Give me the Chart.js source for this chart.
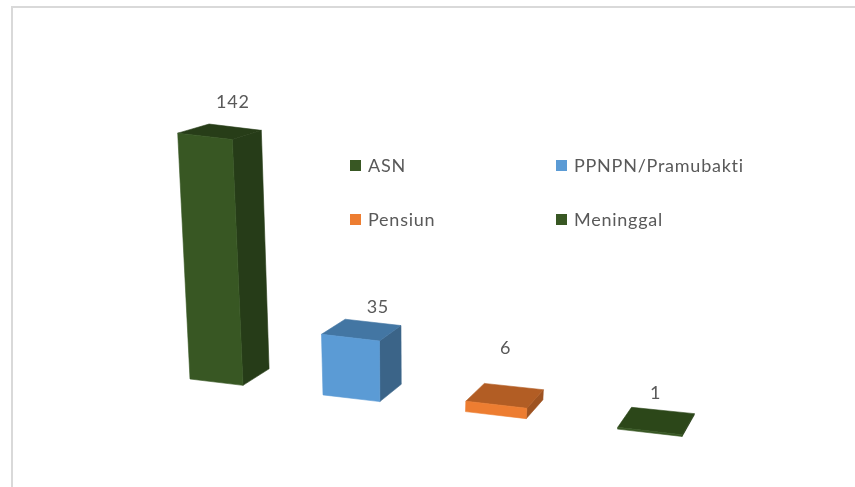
<!DOCTYPE html>
<html>
<head>
<meta charset="utf-8">
<style>
  html, body { margin: 0; padding: 0; background: #fff; overflow: hidden; }
  #wrap { position: absolute; left: 0; top: 0; width: 855px; height: 487px; }
</style>
<script src="https://cdn.jsdelivr.net/npm/chart.js@4"></script>
</head>
<body>
<div id="wrap"><canvas id="chart" width="855" height="487"></canvas></div>
<script>
const categories = ['ASN', 'PPNPN/Pramubakti', 'Pensiun', 'Meninggal'];
const values = [142, 35, 6, 1];

const frontColors = ['#385723', '#5b9bd5', '#ed7d31', '#385723'];
const sideColors = ['#263c18', '#3b6488', '#9e5321', '#263c18'];
const topColors = ['#273d18', '#4376a3', '#b25d24', '#2c4719'];

// nudges from the back of the top face to the label, per bar
const labelNudge = [[-2, -25], [5, -15], [-8, -38], [-7, -17]];

const FONT = '18px Lato, "Open Sans", sans-serif';
const TEXT = '#595959';
const SPACING = '0.75px';

const BAR_SHARE = 0.407;

// Excel style 3D view: t is the position along the category axis in slots,
// d is depth (0 front, 1 back), h is the height in y-scale pixels
function project(t, d, h) {
    const x0 = 190 + 128.25 * t + 4.75 * t * t;
    const y0 = 379 + 15.5 * t + 0.4 * t * t;
    const dx = 28 - 4.7 * t;
    const dy = 16.5 + 0.4 * t * t;
    const lean = (0.05 - 0.01 * t - 0.015 * t * t) * (1 - 0.25 * d);
    const hh = h * (1 - 0.03 * d);
    return [x0 + dx * d - lean * hh, y0 - dy * d - hh];
}

function poly(ctx, pts, color) {
    ctx.beginPath();
    pts.forEach((p, i) => i ? ctx.lineTo(p[0], p[1]) : ctx.moveTo(p[0], p[1]));
    ctx.closePath();
    ctx.fillStyle = color;
    ctx.fill();
    // same colour stroke, hides the seams between faces
    ctx.strokeStyle = color;
    ctx.lineWidth = 0.6;
    ctx.stroke();
}

const box3d = {
    id: 'box3d',
    beforeDatasetDraw(chart, args) {
        const ctx = chart.ctx;
        const xs = chart.scales.x;
        const slot = xs.width / categories.length;
        const gap = (1 - BAR_SHARE) / 2;
        ctx.save();
        args.meta.data.forEach((bar, i) => {
            const p = bar.getProps(['x', 'y', 'base', 'width'], true);
            const t = (p.x - p.width / 2 - xs.left) / slot - gap;
            const w = p.width / slot;
            const h = p.base - p.y;
            const fl = project(t, 0, h), fr = project(t + w, 0, h);
            const bl = project(t, 1, h), br = project(t + w, 1, h);
            const fl0 = project(t, 0, 0), fr0 = project(t + w, 0, 0), br0 = project(t + w, 1, 0);
            poly(ctx, [fr, br, br0, fr0], sideColors[i]);
            poly(ctx, [fl, fr, br, bl], topColors[i]);
            poly(ctx, [fl, fr, fr0, fl0], frontColors[i]);

            const c = project(t + w / 2, 1, h);
            ctx.font = FONT;
            ctx.letterSpacing = SPACING;
            ctx.fillStyle = TEXT;
            ctx.textAlign = 'center';
            ctx.textBaseline = 'middle';
            ctx.fillText(String(values[i]), c[0] + labelNudge[i][0], c[1] + labelNudge[i][1]);
        });
        ctx.restore();
        return false;
    }
};

const legend2x2 = {
    id: 'legend2x2',
    afterDraw(chart) {
        const ctx = chart.ctx;
        const colX = [350, 556];
        const rowY = [166, 220];
        ctx.save();
        ctx.font = FONT;
        ctx.letterSpacing = SPACING;
        ctx.textAlign = 'left';
        ctx.textBaseline = 'middle';
        categories.forEach((name, i) => {
            const x = colX[i % 2], y = rowY[Math.floor(i / 2)];
            ctx.fillStyle = frontColors[i];
            ctx.fillRect(x, y - 6, 11, 11);
            ctx.fillStyle = TEXT;
            ctx.fillText(name, x + 18, y);
        });
        ctx.restore();
    }
};

const frame = {
    id: 'frame',
    beforeDraw(chart) {
        const ctx = chart.ctx;
        ctx.save();
        ctx.fillStyle = '#d9d9d9';
        ctx.fillRect(11, 6, 2, 481);
        ctx.fillRect(11, 6, 844, 2);
        ctx.restore();
    }
};

new Chart(document.getElementById('chart').getContext('2d'), {
    type: 'bar',
    data: {
        labels: categories,
        datasets: [{
            data: values,
            backgroundColor: frontColors,
            barPercentage: BAR_SHARE,
            categoryPercentage: 1
        }]
    },
    options: {
        responsive: false,
        animation: false,
        layout: { padding: { left: 60, right: 60, top: 100, bottom: 110 } },
        plugins: { legend: { display: false }, tooltip: { enabled: false } },
        scales: {
            x: { display: false },
            y: { display: false, min: 0, max: 160 }
        }
    },
    plugins: [frame, box3d, legend2x2]
});
</script>
</body>
</html>
